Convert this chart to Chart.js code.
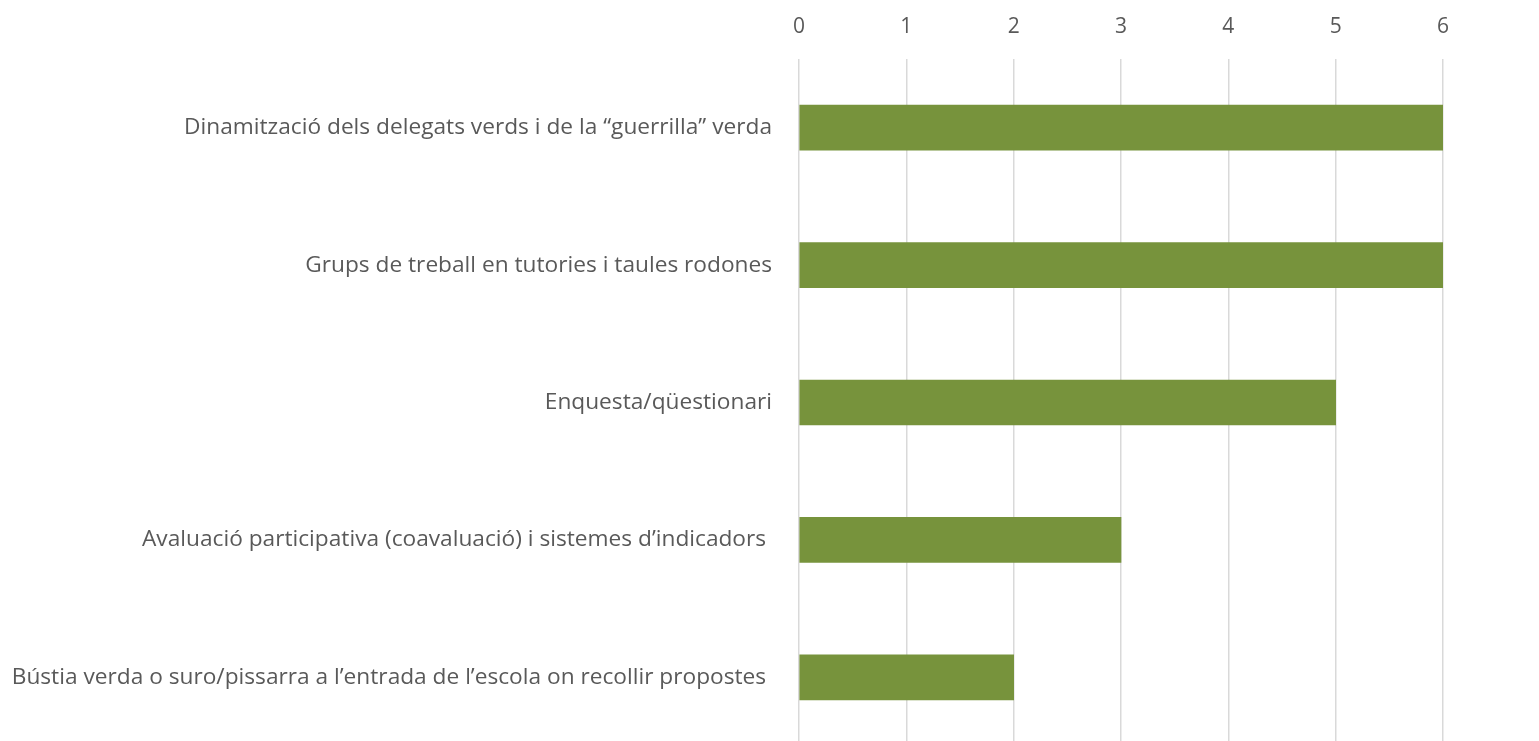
<!DOCTYPE html>
<html>
<head>
<meta charset="utf-8">
<script src="https://cdn.jsdelivr.net/npm/chart.js@4.4.0/dist/chart.umd.min.js"></script>
<style>
html,body{margin:0;padding:0;background:#fff;overflow:hidden;}
#wrap{width:1539px;height:746px;position:relative;}
</style>
</head>
<body>
<div id="wrap"><canvas id="c" width="1539" height="746"></canvas></div>
<script>
const categories = [
  "Dinamització dels delegats verds i de la “guerrilla” verda",
  "Grups de treball en tutories i taules rodones",
  "Enquesta/qüestionari",
  "Avaluació participativa (coavaluació) i sistemes d’indicadors ",
  "Bústia verda o suro/pissarra a l’entrada de l’escola on recollir propostes "
];
const values = [6, 6, 5, 3, 2];
const tickMin = 0, tickMax = 6, tickStep = 1;

const FONT = "'Open Sans', sans-serif";
new Chart(document.getElementById('c'), {
  type: 'bar',
  data: {
    labels: categories,
    datasets: [{
      data: values,
      backgroundColor: '#77933C',
      borderWidth: 0,
      barThickness: 45
    }]
  },
  options: {
    indexAxis: 'y',
    responsive: false,
    animation: false,
    layout: { padding: { left: 0, right: 96, top: 0, bottom: 0 } },
    plugins: { legend: { display: false }, tooltip: { enabled: false } },
    scales: {
      x: {
        position: 'top',
        min: tickMin, max: tickMax,
        ticks: { stepSize: tickStep, color: '#595959', font: { family: FONT, size: 21 }, padding: 19 },
        grid: { color: '#D9D9D9', lineWidth: 1.5, drawTicks: false },
        border: { display: false },
        afterFit: s => { s.height = 59; }
      },
      y: {
        ticks: { color: '#595959', font: { family: FONT, size: 22.7 }, padding: 27, autoSkip: false },
        grid: { display: false, drawTicks: false },
        border: { display: false },
        afterFit: s => { s.width = 799; s.paddingTop = 0; s.paddingBottom = 0; }
      }
    }
  }
});
</script>
</body>
</html>
